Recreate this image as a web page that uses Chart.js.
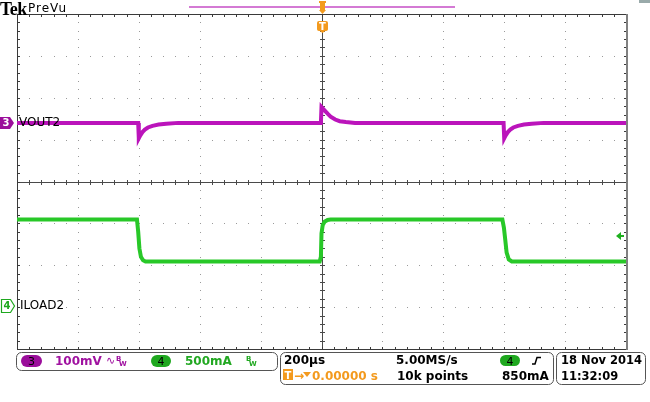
<!DOCTYPE html>
<html><head><meta charset="utf-8">
<script src="https://cdn.jsdelivr.net/npm/chart.js@4/dist/chart.umd.min.js"></script>
<style>html,body{margin:0;padding:0;background:#fff;}#wrap{width:650px;height:402px;position:relative;}</style>
</head><body><div id="wrap"><canvas id="c" width="650" height="402"></canvas></div>
<script>
// Time axis in microseconds (200 µs/div, trigger at centre)
const timeV = [-1000,-602,-600,-595,-588,-580,-570,-555,-535,-510,-470,-2,0,10,20,30,45,60,80,110,598,600,605,612,620,630,645,665,690,730,1000];
// VOUT2 (mV, AC, 100 mV/div)
const vout  = [0,0,-37,-30,-22,-16,-11,-7,-4,-2,0,0,38,30,22,15,8,4,2,0,0,-37,-30,-22,-16,-11,-7,-4,-2,0,0];
const timeI = [-1000,-606,-602,-598,-593,-586,-578,-6,-2,0,4,10,20,30,594,599,603,608,615,625,1000];
// ILOAD2 (mA, 500 mA/div)
const iload = [1045,1045,900,700,600,560,545,545,600,880,980,1020,1040,1045,1045,950,820,650,570,545,545];

const vScale = {min:-540, max:260};   // 100 mV/div, ch3 ground 1.4 div above centre
const iScale = {min:-500, max:3500};  // 500 mA/div, ch4 ground 3 div below centre

const ptsV = timeV.map((t,i)=>({x:t,y:vout[i]}));
const ptsI = timeI.map((t,i)=>({x:t,y:iload[i]}));

const graticule = {
  id:'graticule',
  beforeDatasetsDraw(chart){
    const c = chart.ctx, xs = chart.scales.x, ys = chart.scales.yV;
    const X = d => Math.round(xs.getPixelForValue(-1000 + d*200));
    const Y = d => Math.round(ys.getPixelForValue(vScale.max - d*100));
    c.save();
    c.fillStyle = '#9a9a9a';
    for (let i=1;i<10;i++){ if(i===5) continue; const x=X(i);
      for (let k=1;k<40;k++){ c.fillRect(x, Y(k/5), 1, 1); } }
    for (let j=1;j<8;j++){ if(j===4) continue; const y=Y(j);
      for (let k=1;k<50;k++){ c.fillRect(X(k/5), y, 1, 1); } }
    // centre crosshair
    c.fillStyle = '#4a4a4a';
    const cx = X(5), cy = Y(4);
    c.fillRect(cx, Y(0), 1, Y(8)-Y(0));
    c.fillRect(X(0), cy, X(10)-X(0), 1);
    for (let k=1;k<40;k++){ c.fillRect(cx-2, Y(k/5), 5, 1); }
    for (let k=1;k<50;k++){ c.fillRect(X(k/5), cy-2, 1, 5); }
    // border with inward ticks
    c.fillStyle = '#3a3a3a';
    c.fillRect(X(0), Y(0), X(10)-X(0), 1);
    c.fillRect(X(0), Y(8), X(10)-X(0)+1, 1);
    c.fillRect(X(0), Y(0), 1, Y(8)-Y(0));
    for (let k=1;k<50;k++){ c.fillRect(X(k/5), Y(0), 1, 3); c.fillRect(X(k/5), Y(8)-2, 1, 3); }
    for (let k=1;k<40;k++){ c.fillRect(X(0), Y(k/5), 3, 1); c.fillRect(X(10)-2, Y(k/5), 3, 1); }
    c.fillStyle = '#808080';
    c.fillRect(X(10), Y(0), 2, Y(8)-Y(0)+1);
    c.restore();
  }
};

function rr(c,x,y,w,h,r){ c.beginPath(); c.moveTo(x+r,y); c.lineTo(x+w-r,y); c.arcTo(x+w,y,x+w,y+r,r); c.lineTo(x+w,y+h-r); c.arcTo(x+w,y+h,x+w-r,y+h,r); c.lineTo(x+r,y+h); c.arcTo(x,y+h,x,y+h-r,r); c.lineTo(x,y+r); c.arcTo(x,y,x+r,y,r); c.closePath(); }

const overlay = {
  id:'overlay',
  afterDraw(chart){
    const c = chart.ctx;
    const xs = chart.scales.x, yV = chart.scales.yV, yI = chart.scales.yI;
    c.save();
    c.textBaseline = 'alphabetic';
    // header
    c.fillStyle = '#000';
    c.font = 'bold 18px "Liberation Serif"';
    c.letterSpacing = '-0.5px';
    c.fillText('Tek', 0, 15);
    c.font = '12px "DejaVu Sans"';
    c.letterSpacing = '1px';
    c.fillText('PreVu', 28, 12);
    c.letterSpacing = '0px';
    // record bar
    c.fillStyle = '#d47ad4';
    c.fillRect(189, 6, 266, 2);
    // trigger position markers
    const tx = Math.round(xs.getPixelForValue(0));
    c.fillStyle = '#f39a1e';
    c.fillRect(tx-3, 1, 7, 2);
    c.fillRect(tx-2, 3, 5, 8);
    c.beginPath(); c.moveTo(tx-3,10); c.lineTo(tx+4,10); c.lineTo(tx+0.5,14); c.closePath(); c.fill();
    rr(c, tx-5, 21, 11, 10, 2); c.fill();
    c.beginPath(); c.moveTo(tx-5,29); c.lineTo(tx+6,29); c.lineTo(tx+0.5,33); c.closePath(); c.fill();
    c.fillStyle = '#fff'; c.font = 'bold 10px "DejaVu Sans"'; c.textAlign='center';
    c.fillText('T', tx+0.5, 30);
    c.textAlign='left';
    // small gray tab top right
    c.fillStyle = '#9aa'; c.fillRect(639,0,11,3);
    // channel 3 marker
    const y3 = Math.round(yV.getPixelForValue(0));
    c.fillStyle = '#9b0e9b';
    c.beginPath(); c.moveTo(0,y3-6); c.lineTo(10,y3-6); c.lineTo(14,y3); c.lineTo(10,y3+6); c.lineTo(0,y3+6); c.closePath(); c.fill();
    c.fillStyle = '#fff'; c.font = 'bold 10px "DejaVu Sans"'; c.textAlign='center'; c.textBaseline='middle';
    c.fillText('3', 6, y3+0.5);
    c.textAlign='left';
    c.fillStyle = '#000'; c.font = '12px "DejaVu Sans"';
    c.fillText('VOUT2', 19, y3);
    // channel 4 marker
    const y4 = Math.round(yI.getPixelForValue(0)) - 1;
    c.fillStyle = '#fff'; c.strokeStyle = '#1fa81f'; c.lineWidth = 1.2;
    c.beginPath(); c.moveTo(1.5,y4-6.5); c.lineTo(10.5,y4-6.5); c.lineTo(14.5,y4); c.lineTo(10.5,y4+6.5); c.lineTo(1.5,y4+6.5); c.closePath(); c.fill(); c.stroke();
    c.fillStyle = '#1fa81f'; c.font = 'bold 10px "DejaVu Sans"'; c.textAlign='center';
    c.fillText('4', 7, y4+0.5);
    c.textAlign='left';
    c.fillStyle = '#000'; c.font = '12px "DejaVu Sans"';
    c.fillText('ILOAD2', 20, y4);
    // trigger level arrow (850 mA)
    const yt = Math.round(yI.getPixelForValue(850));
    c.fillStyle = '#1fb01f';
    c.beginPath(); c.moveTo(616,yt); c.lineTo(621,yt-4); c.lineTo(621,yt+4); c.closePath(); c.fill();
    c.fillRect(620, yt-1, 4, 2);
    c.textBaseline='alphabetic';
    // status boxes
    c.strokeStyle = '#555'; c.lineWidth = 1;
    rr(c, 16.5, 352.5, 261, 18, 5); c.stroke();
    rr(c, 280.5, 352.5, 273, 32, 5); c.stroke();
    rr(c, 556.5, 352.5, 89, 32, 5); c.stroke();
    // channel 3 pill
    c.fillStyle = '#9b0e9b'; rr(c, 21, 355, 21, 12, 6); c.fill();
    c.fillStyle = '#000'; c.font = '11px "DejaVu Sans"'; c.textAlign='center';
    c.fillText('3', 31.5, 365);
    c.fillStyle = '#1fa81f'; rr(c, 151, 355, 20, 12, 6); c.fill();
    c.fillStyle = '#000'; c.fillText('4', 161, 365);
    c.textAlign='left';
    c.font = 'bold 12px "DejaVu Sans"';
    c.fillStyle = '#a012a0'; c.fillText('100mV', 55, 365);
    c.font = '11px "DejaVu Sans"'; c.fillText('\u223F', 106, 364);
    c.font = 'bold 7px "DejaVu Sans"'; c.fillText('B', 116, 361); c.fillText('W', 119, 366);
    c.fillStyle = '#22a822'; c.font = 'bold 12px "DejaVu Sans"'; c.fillText('500mA', 185, 365);
    c.font = 'bold 7px "DejaVu Sans"'; c.fillText('B', 246, 361); c.fillText('W', 249, 366);
    // timebase box
    c.fillStyle = '#000'; c.font = 'bold 12px "DejaVu Sans"';
    c.fillText('200\u00B5s', 284, 364);
    c.fillText('5.00MS/s', 396, 364);
    c.fillText('10k points', 397, 380);
    c.fillText('850mA', 502, 380);
    c.font = 'bold 11.5px "DejaVu Sans"';
    c.fillText('18 Nov 2014', 561, 364);
    c.fillText('11:32:09', 561, 380);
    c.font = 'bold 12px "DejaVu Sans"';
    c.fillStyle = '#f39a1e';
    c.fillRect(283, 369, 10, 11);
    c.fillText('\u2192', 294, 380);
    c.beginPath(); c.moveTo(303,372); c.lineTo(311,372); c.lineTo(307,377); c.closePath(); c.fill();
    c.fillText('0.00000 s', 312, 380);
    c.fillStyle = '#fff'; c.font = 'bold 10px "DejaVu Sans"'; c.textAlign='center';
    c.fillText('T', 288, 379);
    c.textAlign='left';
    // trigger source pill + slope
    c.fillStyle = '#1fa81f'; rr(c, 500, 355, 20, 11, 5.5); c.fill();
    c.fillStyle = '#000'; c.font = '11px "DejaVu Sans"'; c.textAlign='center';
    c.fillText('4', 510, 365); c.textAlign='left';
    c.strokeStyle = '#000'; c.lineWidth = 1.5;
    c.beginPath(); c.moveTo(532,364); c.lineTo(535,364); c.lineTo(537,357.5); c.lineTo(541,357.5); c.stroke();
    c.restore();
  }
};

new Chart(document.getElementById('c'), {
  type:'line',
  data:{ datasets:[
    {data:ptsV, yAxisID:'yV', borderColor:'#bb14bb', borderWidth:4, pointRadius:0, tension:0},
    {data:ptsV, yAxisID:'yV', borderColor:'#5a0a5a', borderWidth:1.3, pointRadius:0, tension:0},
    {data:ptsI, yAxisID:'yI', borderColor:'#28c828', borderWidth:4, pointRadius:0, tension:0},
    {data:ptsI, yAxisID:'yI', borderColor:'#0d6a0d', borderWidth:1.3, pointRadius:0, tension:0}
  ]},
  options:{
    responsive:false, animation:false, parsing:true,
    layout:{padding:{left:17, right:24, top:14, bottom:53}},
    plugins:{legend:{display:false}, tooltip:{enabled:false}},
    scales:{
      x:{type:'linear', min:-1000, max:1000, display:false},
      yV:{type:'linear', min:vScale.min, max:vScale.max, display:false},
      yI:{type:'linear', min:iScale.min, max:iScale.max, display:false}
    }
  },
  plugins:[graticule, overlay]
});
</script>
</body></html>
